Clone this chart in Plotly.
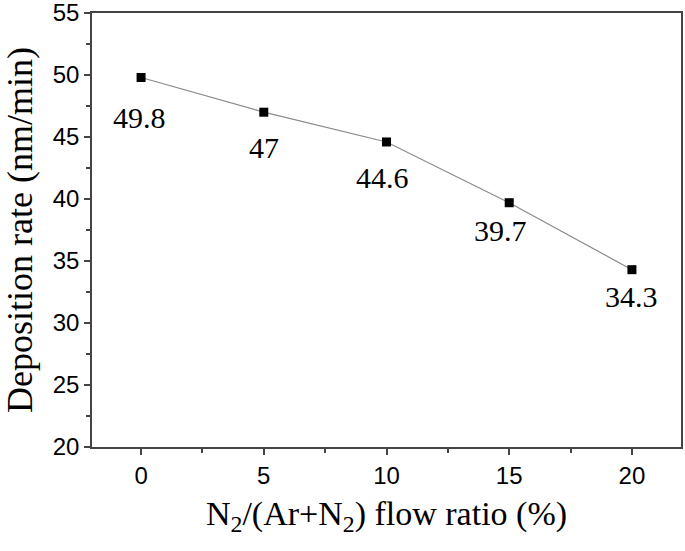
import plotly.graph_objects as go

# N2 flow ratio (%) vs deposition rate (nm/min)
flow_ratio = [0, 5, 10, 15, 20]
dep_rate = [49.8, 47.0, 44.6, 39.7, 34.3]
labels = ["49.8", "47", "44.6", "39.7", "34.3"]

# label offsets below each point (px)
label_dx = [-2, 0, -4, -9, 0]
label_dy = [-40, -35, -36, -28, -27]

serif = "Liberation Serif, Times New Roman, serif"
sans = "Liberation Sans, Arial, sans-serif"

fig = go.Figure()
fig.add_trace(go.Scatter(
    x=flow_ratio, y=dep_rate,
    mode="lines+markers",
    line=dict(color="#8a8a8a", width=1.2),
    marker=dict(symbol="square", size=9, color="black"),
    showlegend=False,
))

for x, y, t, dx, dy in zip(flow_ratio, dep_rate, labels, label_dx, label_dy):
    fig.add_annotation(
        x=x, y=y, text=t, showarrow=False,
        xshift=dx, yshift=dy,
        font=dict(family=serif, size=30, color="black"),
    )

axis_common = dict(
    showline=True, linecolor="#444", linewidth=1.5, mirror=True,
    showgrid=False, zeroline=False, automargin=False,
    ticks="outside", ticklen=6, tickwidth=1.5, tickcolor="#444",
    tickfont=dict(family=sans, size=24, color="black"),
    ticklabeloverflow="allow",
    minor=dict(ticks="outside", ticklen=4, tickwidth=1.5, tickcolor="#444"),
)

fig.update_layout(
    width=685, height=551,
    margin=dict(l=92, r=4, t=13, b=104),
    paper_bgcolor="white", plot_bgcolor="white",
    xaxis=dict(
        range=[-2, 22], tickmode="array", tickvals=[0, 5, 10, 15, 20],
        title=dict(text="N<sub>2</sub>/(Ar+N<sub>2</sub>) flow ratio (%)", standoff=14,
                   font=dict(family=serif, size=34, color="black")),
        **axis_common,
    ),
    yaxis=dict(
        range=[20, 55], dtick=5,
        title=dict(text="Deposition rate (nm/min)", standoff=30,
                   font=dict(family=serif, size=36, color="black")),
        **axis_common,
    ),
)
fig.update_xaxes(minor=dict(dtick=2.5, tick0=0))
fig.update_yaxes(minor=dict(dtick=2.5, tick0=20))

# drop the default page margin so the figure sits at the window corner
fig.write_html("out.html", config={"displayModeBar": False},
               post_script="document.body.style.margin='0';")
